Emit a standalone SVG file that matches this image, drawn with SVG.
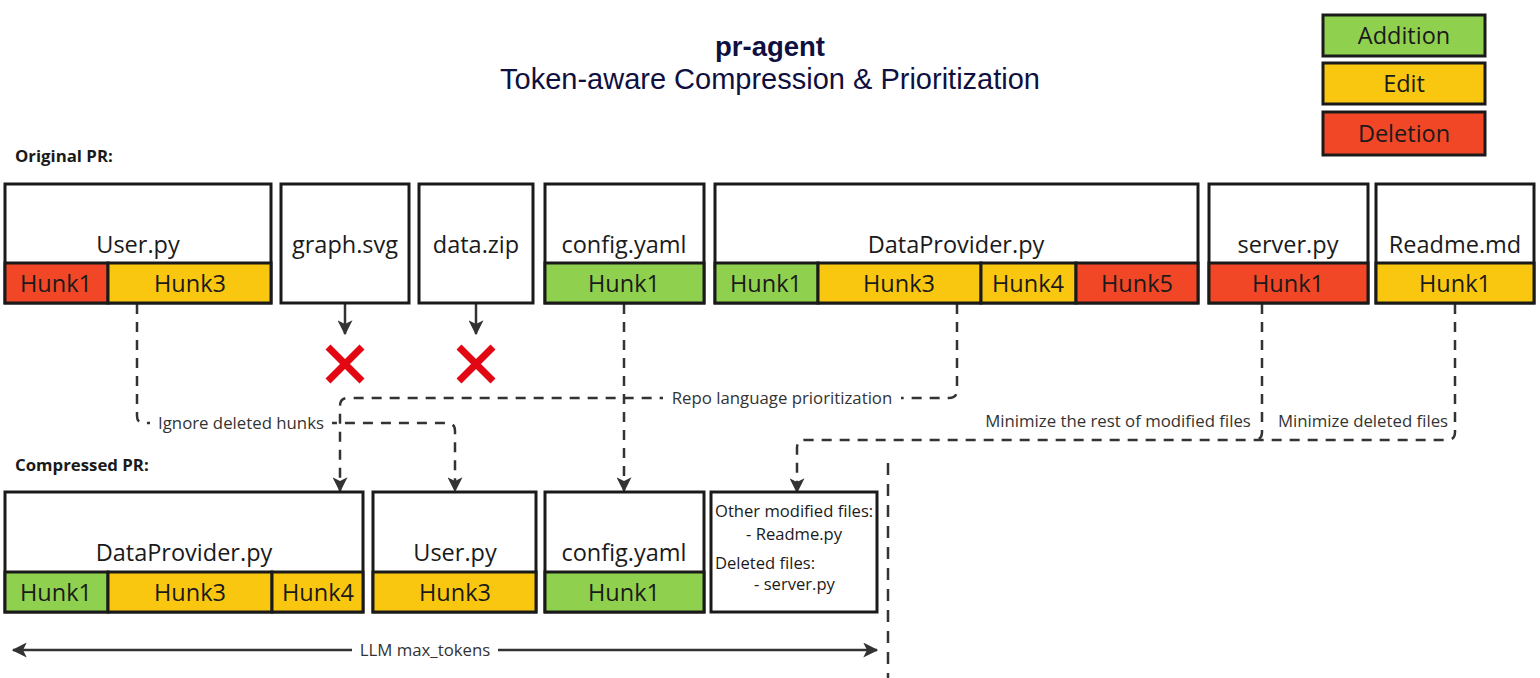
<svg xmlns="http://www.w3.org/2000/svg" width="1540" height="678" viewBox="0 0 1540 678">
<style>
.box{fill:#fff;stroke:#1a1a1a;stroke-width:3}
.add{fill:#8fd14f;stroke:#1a1a1a;stroke-width:3}
.edit{fill:#fac710;stroke:#1a1a1a;stroke-width:3}
.del{fill:#f24726;stroke:#1a1a1a;stroke-width:3}
.lbl{font-family:"Open Sans","Noto Sans",sans-serif;font-size:23.5px;fill:#1a1a1a;text-anchor:middle}
.sm{font-family:"Open Sans","Noto Sans",sans-serif;font-size:16.6px;fill:#1a1a1a}
.cl{font-family:"Open Sans","Noto Sans",sans-serif;font-size:16.8px;fill:#333;text-anchor:middle}
.hdr{font-family:"Open Sans","Noto Sans",sans-serif;font-size:16.8px;font-weight:bold;fill:#1a1a1a}
.dash{fill:none;stroke:#333;stroke-width:2.5;stroke-dasharray:10 8}
.solid{fill:none;stroke:#333;stroke-width:2.5}
.x{stroke:#e30613;stroke-width:7;fill:none}
</style>
<defs>
<marker id="ah" viewBox="0 0 12 12" refX="11" refY="6" markerWidth="15" markerHeight="15" markerUnits="userSpaceOnUse" orient="auto-start-reverse">
<path d="M0,0 L12,6 L0,12 L3,6 Z" fill="#333"/>
</marker>
</defs>
<rect width="1540" height="678" fill="#fff"/>

<g id="title">
<text x="770" y="56" font-family="Liberation Sans, Arial, sans-serif" font-size="27.5" font-weight="bold" fill="#0f1040" text-anchor="middle">pr-agent</text>
<text x="770" y="89" font-family="Liberation Sans, Arial, sans-serif" font-size="29" fill="#0f1040" text-anchor="middle">Token-aware Compression &amp; Prioritization</text>
</g>

<g id="legend">
<rect class="add" x="1323" y="15" width="162" height="41"/>
<text class="lbl" x="1404" y="44">Addition</text>
<rect class="edit" x="1323" y="63" width="162" height="41"/>
<text class="lbl" x="1404" y="92">Edit</text>
<rect class="del" x="1323" y="112" width="162" height="43"/>
<text class="lbl" x="1404" y="142">Deletion</text>
</g>

<text class="hdr" x="15" y="162">Original PR:</text>
<text class="hdr" x="15" y="471">Compressed PR:</text>

<g id="connectors">
<path class="solid" d="M345,304 V334" marker-end="url(#ah)"/>
<path class="solid" d="M476,304 V334" marker-end="url(#ah)"/>
<path class="dash" d="M137,304 V416 Q137,423 144,423 H447 Q455,423 455,431 V491" marker-end="url(#ah)"/>
<path class="dash" d="M957,304 V390 Q957,398 949,398 H348 Q340,398 340,406 V491" marker-end="url(#ah)"/>
<path class="dash" d="M624,304 V491" marker-end="url(#ah)"/>
<path class="dash" d="M1455,304 V432 Q1455,440 1447,440 H805 Q797,440 797,448 V492" marker-end="url(#ah)"/>
<path class="dash" d="M1262,304 V432 Q1262,440 1254,440"/>
<path class="dash" d="M888,463 V678" style="stroke-dasharray:12 9"/>
<path class="solid" d="M13,650 H877" marker-start="url(#ah)" marker-end="url(#ah)"/>
<rect x="150" y="411" width="182" height="24" fill="#fff"/>
<text class="cl" x="241" y="429">Ignore deleted hunks</text>
<rect x="663" y="386" width="238" height="24" fill="#fff"/>
<text class="cl" x="782" y="404">Repo language prioritization</text>
<text class="cl" x="1118" y="427">Minimize the rest of modified files</text>
<text class="cl" x="1363" y="427">Minimize deleted files</text>
<rect x="352" y="638" width="146" height="24" fill="#fff"/>
<text class="cl" x="425" y="656">LLM max_tokens</text>
<path class="x" d="M328,347 L362,381 M362,347 L328,381"/>
<path class="x" d="M459,347 L493,381 M493,347 L459,381"/>
</g>

<g id="orig-user">
<rect class="box" x="5" y="184" width="266" height="119"/>
<text class="lbl" x="138" y="253">User.py</text>
<rect class="del" x="5" y="263" width="103" height="40"/>
<text class="lbl" x="56" y="292">Hunk1</text>
<rect class="edit" x="108" y="263" width="163" height="40"/>
<text class="lbl" x="190" y="292">Hunk3</text>
</g>

<g id="orig-graph">
<rect class="box" x="281" y="184" width="128" height="119"/>
<text class="lbl" x="345" y="253">graph.svg</text>
</g>

<g id="orig-data">
<rect class="box" x="419" y="184" width="114" height="119"/>
<text class="lbl" x="476" y="253">data.zip</text>
</g>

<g id="orig-config">
<rect class="box" x="545" y="184" width="159" height="119"/>
<text class="lbl" x="624" y="253">config.yaml</text>
<rect class="add" x="545" y="263" width="159" height="40"/>
<text class="lbl" x="624" y="292">Hunk1</text>
</g>

<g id="orig-dataprovider">
<rect class="box" x="715" y="184" width="483" height="119"/>
<text class="lbl" x="956" y="253">DataProvider.py</text>
<rect class="add" x="715" y="263" width="103" height="40"/>
<text class="lbl" x="766" y="292">Hunk1</text>
<rect class="edit" x="818" y="263" width="163" height="40"/>
<text class="lbl" x="899" y="292">Hunk3</text>
<rect class="edit" x="981" y="263" width="95" height="40"/>
<text class="lbl" x="1028" y="292">Hunk4</text>
<rect class="del" x="1076" y="263" width="122" height="40"/>
<text class="lbl" x="1137" y="292">Hunk5</text>
</g>

<g id="orig-server">
<rect class="box" x="1209" y="184" width="159" height="119"/>
<text class="lbl" x="1288" y="253">server.py</text>
<rect class="del" x="1209" y="263" width="159" height="40"/>
<text class="lbl" x="1288" y="292">Hunk1</text>
</g>

<g id="orig-readme">
<rect class="box" x="1376" y="184" width="158" height="119"/>
<text class="lbl" x="1455" y="253">Readme.md</text>
<rect class="edit" x="1376" y="263" width="158" height="40"/>
<text class="lbl" x="1455" y="292">Hunk1</text>
</g>

<g id="comp-dataprovider">
<rect class="box" x="5" y="492" width="358" height="120"/>
<text class="lbl" x="184" y="561">DataProvider.py</text>
<rect class="add" x="5" y="572" width="103" height="40"/>
<text class="lbl" x="56" y="601">Hunk1</text>
<rect class="edit" x="108" y="572" width="164" height="40"/>
<text class="lbl" x="190" y="601">Hunk3</text>
<rect class="edit" x="272" y="572" width="91" height="40"/>
<text class="lbl" x="318" y="601">Hunk4</text>
</g>

<g id="comp-user">
<rect class="box" x="373" y="492" width="163" height="120"/>
<text class="lbl" x="455" y="561">User.py</text>
<rect class="edit" x="373" y="572" width="163" height="40"/>
<text class="lbl" x="455" y="601">Hunk3</text>
</g>

<g id="comp-config">
<rect class="box" x="545" y="492" width="159" height="120"/>
<text class="lbl" x="624" y="561">config.yaml</text>
<rect class="add" x="545" y="572" width="159" height="40"/>
<text class="lbl" x="624" y="601">Hunk1</text>
</g>

<g id="comp-other">
<rect class="box" x="711" y="492" width="166" height="120"/>
<text class="sm" x="715" y="517">Other modified files:</text>
<text class="sm" x="746" y="540">- Readme.py</text>
<text class="sm" x="715" y="569">Deleted files:</text>
<text class="sm" x="754" y="590">- server.py</text>
</g>
</svg>
